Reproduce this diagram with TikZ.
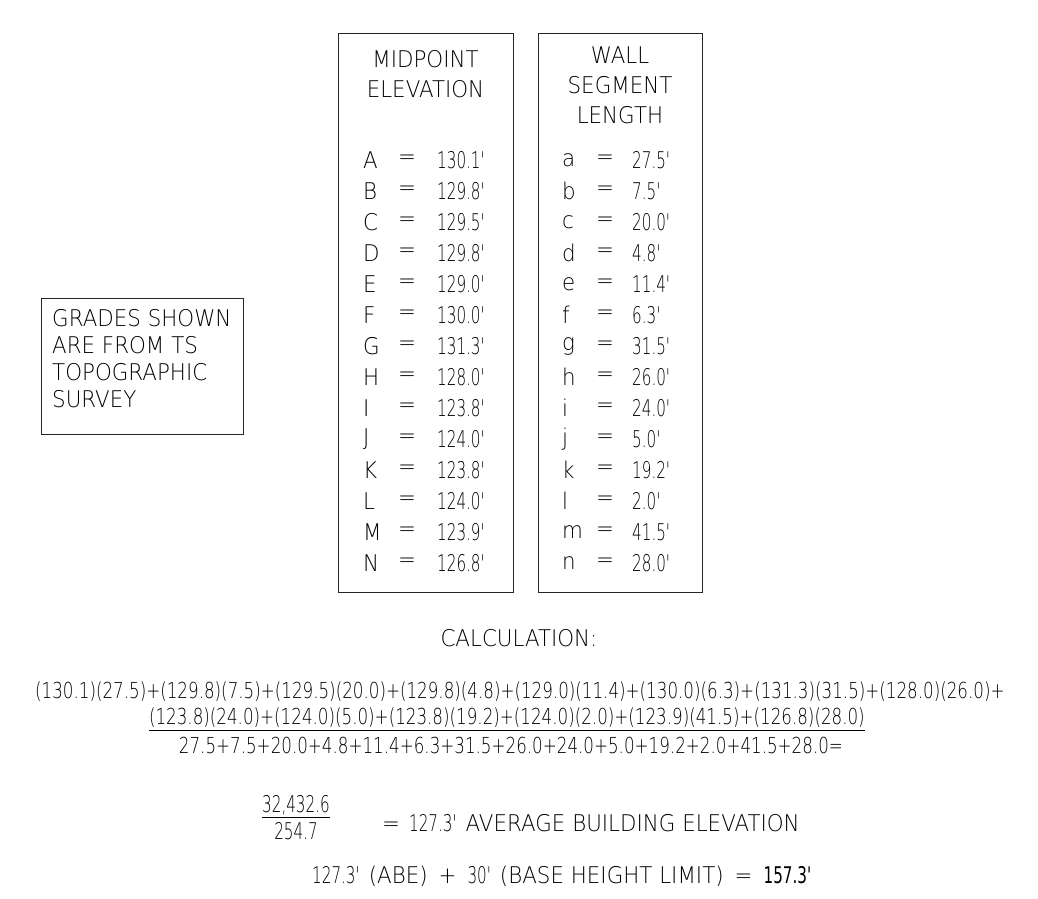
\documentclass[tikz,border=0pt]{standalone}
\usepackage{fontspec}
\setmainfont{DejaVu Sans ExtraLight}[FakeStretch=0.93]
\newfontfamily\numfont{DejaVu Sans ExtraLight}[FakeStretch=0.66]
\newfontfamily\calcfont{DejaVu Sans ExtraLight}[FakeStretch=0.76]
\newfontfamily\boldnum{DejaVu Sans}[FakeStretch=0.66]
\usepackage{tikz}
\usetikzlibrary{positioning}
\newcommand{\ft}{\textquotesingle}
\newcommand{\op}[1]{\hspace{11pt}#1\hspace{11pt}}

\begin{document}
\begin{tikzpicture}[x=1pt, y=-1pt,
  frame/.style={draw=black!85, line width=0.9pt},
  txt/.style={inner sep=0pt, font=\fontsize{23}{30}\selectfont},
  num/.style={inner sep=0pt, font=\numfont\fontsize{23}{30}\selectfont},
  calc/.style={inner sep=0pt, font=\calcfont\fontsize{22}{26}\selectfont}
]
  \useasboundingbox (0,0) rectangle (1038,898);

  % note box (left)
  \node[txt, anchor=north west, align=left] (note) at (52,309)
    {GRADES SHOWN\\[-3pt]ARE FROM TS\\[-3pt]TOPOGRAPHIC\\[-3pt]SURVEY};
  \draw[frame] (41,298) rectangle (243,434);

  % midpoint elevation table
  \draw[frame] (338,33) rectangle (513,592);
  \node[txt, align=center] (mphead) at (425.5,74) {MIDPOINT\\ELEVATION};
  \foreach \ltr/\val [count=\i from 0] in {A/130.1,B/129.8,C/129.5,D/129.8,
      E/129.0,F/130.0,G/131.3,H/128.0,I/123.8,J/124.0,K/123.8,L/124.0,
      M/123.9,N/126.8}{
    \node[txt, anchor=west] (mpk\i) at (363,160+31*\i) {\ltr};
    \node[txt] (mpq\i) at (407,160+31*\i) {=};
    \node[num, anchor=west] (mpv\i) at (437,160+31*\i) {\val\ft};
  }

  % wall segment length table
  \draw[frame] (538,33) rectangle (702,592);
  \node[txt, align=center] (wlhead) at (620,85) {WALL\\SEGMENT\\LENGTH};
  \foreach \ltr/\val [count=\i from 0] in {a/27.5,b/7.5,c/20.0,d/4.8,
      e/11.4,f/6.3,g/31.5,h/26.0,i/24.0,j/5.0,k/19.2,l/2.0,m/41.5,n/28.0}{
    \node[txt, anchor=west] (wlk\i) at (562,160+31*\i) {\ltr};
    \node[txt] (wlq\i) at (605,160+31*\i) {=};
    \node[num, anchor=west] (wlv\i) at (632,160+31*\i) {\val\ft};
  }

  % calculation
  \node[txt] (calchead) at (519,638) {CALCULATION:};
  \node[calc] (sum1) at (520,692)
    {(130.1)(27.5)+(129.8)(7.5)+(129.5)(20.0)+(129.8)(4.8)+(129.0)(11.4)+(130.0)(6.3)+(131.3)(31.5)+(128.0)(26.0)+};
  \node[calc, inner ysep=2pt] (sum2) at (507,718)
    {(123.8)(24.0)+(124.0)(5.0)+(123.8)(19.2)+(124.0)(2.0)+(123.9)(41.5)+(126.8)(28.0)};
  \draw[line width=0.9pt] (sum2.south west) -- (sum2.south east);
  \node[calc] (len) at (511,745)
    {27.5+7.5+20.0+4.8+11.4+6.3+31.5+26.0+24.0+5.0+19.2+2.0+41.5+28.0=};

  % result
  \node[num, inner ysep=2pt] (numer) at (296,805) {32,432.6};
  \draw[line width=0.9pt] (numer.south west) -- (numer.south east);
  \node[num] (denom) at (296,831) {254.7};
  \node[txt, anchor=west] (avg) at (382,823)
    {=\hspace{9pt}{\numfont 127.3\ft} AVERAGE BUILDING ELEVATION};
  \node[txt, anchor=west] (limit) at (312,876)
    {{\numfont 127.3\ft} (ABE)\op{+}{\numfont 30\ft} (BASE HEIGHT LIMIT)\op{=}{\boldnum 157.3\ft}};
\end{tikzpicture}
\end{document}
